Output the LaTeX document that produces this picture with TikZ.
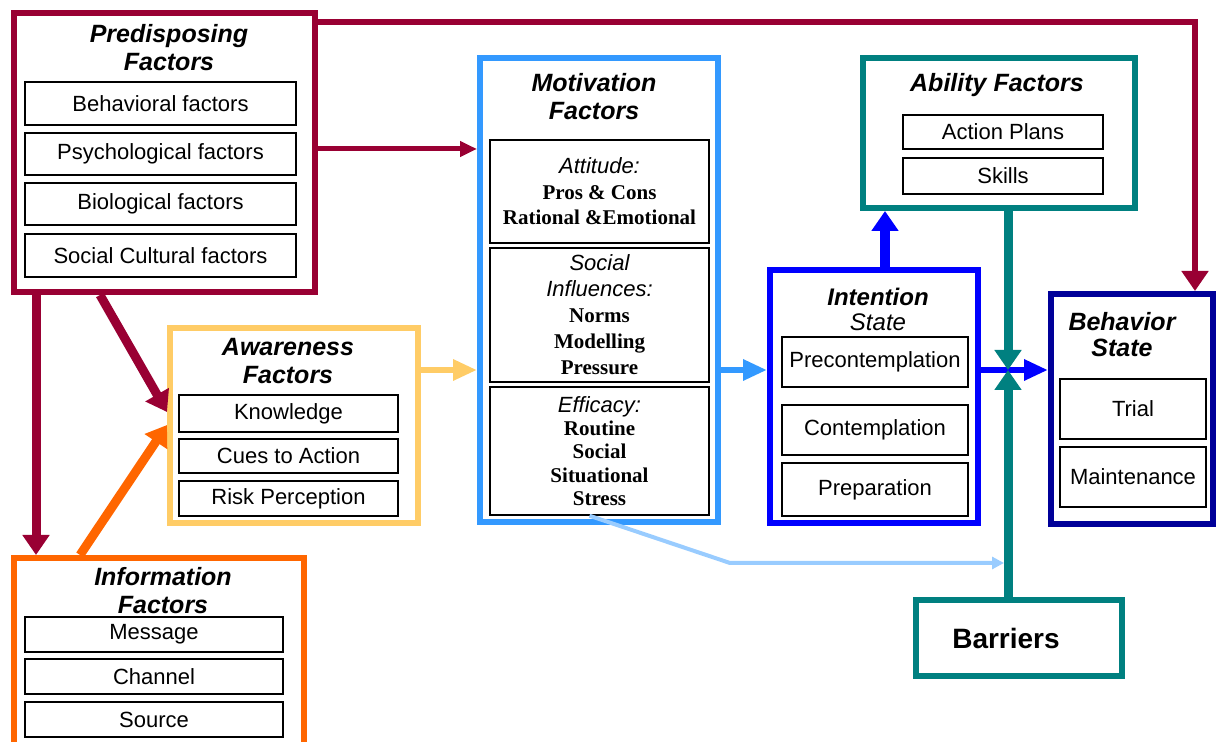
\documentclass[tikz,border=0pt]{standalone}
\usepackage{fontspec}
\setmainfont{Liberation Sans}
\newfontfamily\timesfont{Liberation Serif}
\usetikzlibrary{arrows.meta}

\definecolor{predmaroon}{HTML}{990033}
\definecolor{infoorange}{HTML}{FF6600}
\definecolor{awareyellow}{HTML}{FFCC66}
\definecolor{motivblue}{HTML}{3399FF}
\definecolor{intentblue}{HTML}{0000FF}
\definecolor{behavnavy}{HTML}{000099}
\definecolor{abilityteal}{HTML}{008080}
\definecolor{paleblue}{HTML}{99CCFF}

\begin{document}
\begin{tikzpicture}[x=0.5pt,y=-0.5pt,
    outbox/.style={draw,line width=3pt},
    entry/.style={draw,line width=0.75pt,font=\fontsize{11}{13}\selectfont},
    heading/.style={align=center,font=\bfseries\itshape\fontsize{12.5}{14}\selectfont},
    motitem/.style={entry,minimum width=109.5pt,align=center,font=\timesfont\bfseries\fontsize{10.5}{12.8}\selectfont},
    link/.style={line width=3pt,-{Triangle[width=10pt,length=12pt]}},
    fat/.style={line width=4.5pt,-{Triangle[width=13pt,length=10pt]}}]
  \useasboundingbox (0,0) rectangle (1216,742);
  \clip (0,0) rectangle (1216,742);

  % outer frames
  \node[outbox,draw=predmaroon,minimum width=150.5pt,minimum height=139.5pt] (pre) at (164.5,152.5) {};
  \node[outbox,draw=infoorange,minimum width=145pt,minimum height=96pt] (info) at (159,654) {};
  \node[outbox,draw=awareyellow,minimum width=124pt,minimum height=97.5pt] (aware) at (294,425.5) {};
  \node[outbox,draw=motivblue,minimum width=119pt,minimum height=232pt] (motiv) at (599,290) {};
  \node[outbox,draw=intentblue,minimum width=104pt,minimum height=126.5pt] (intent) at (874,396.5) {};
  \node[outbox,draw=abilityteal,minimum width=136pt,minimum height=75pt] (ability) at (999,133) {};
  \node[outbox,draw=behavnavy,minimum width=81pt,minimum height=115pt] (behav) at (1132,409) {};
  \node[outbox,draw=abilityteal,minimum width=103pt,minimum height=38pt,
        font=\bfseries\fontsize{14}{16}\selectfont] (barriers) at (1019,638) {\hspace*{-13pt}Barriers};

  % headings
  \node[heading] (pretitle) at (169,47.5) {Predisposing\\Factors};
  \node[heading] (infotitle) at (163,591) {Information\\Factors};
  \node[heading] (awaretitle) at (288,361) {Awareness\\Factors};
  \node[heading] (motivtitle) at (594,96.5) {Motivation\\Factors};
  \node[heading] (abilitytitle) at (997,85) {Ability Factors};
  \node[heading,font=\itshape\fontsize{12}{12.5}\selectfont] (intenttitle) at (878,309.5) {{\bfseries Intention}\\State};
  \node[heading,font=\bfseries\itshape\fontsize{12.5}{13}\selectfont] (behavtitle) at (1122,335) {Behavior\\State};

  % predisposing factors
  \node[entry,minimum width=135.5pt,minimum height=21.5pt] (behavioral) at (160.5,103.5) {Behavioral factors};
  \node[entry,minimum width=135.5pt,minimum height=21pt] (psych) at (160.5,154) {Psychological factors};
  \node[entry,minimum width=135.5pt,minimum height=21pt] (bio) at (160.5,204) {Biological factors};
  \node[entry,minimum width=135.5pt,minimum height=21.5pt] (socult) at (160.5,255.5) {Social Cultural factors};

  % information factors
  \node[entry,minimum width=129pt,minimum height=17.5pt] (message) at (154,634.5) {Message};
  \node[entry,minimum width=129pt,minimum height=17.5pt] (channel) at (154,676.5) {Channel};
  \node[entry,minimum width=129pt,minimum height=17.5pt] (source) at (154,719.5) {Source};

  % awareness factors
  \node[entry,minimum width=109.5pt,minimum height=18.5pt] (knowledge) at (288.5,413.5) {Knowledge};
  \node[entry,minimum width=109.5pt,minimum height=17pt] (cues) at (288.5,456) {Cues to Action};
  \node[entry,minimum width=109.5pt,minimum height=17.5pt] (risk) at (288.5,498.5) {Risk Perception};

  % motivation factors
  \node[motitem,minimum height=51.5pt] (attitude) at (599.5,191.5)
    {{\normalfont\itshape\fontsize{11}{12}\selectfont Attitude:}\\Pros \& Cons\\Rational \&Emotional};
  \node[motitem,minimum height=65pt,font=\timesfont\bfseries\fontsize{10.5}{13}\selectfont] (socinf) at (599.5,315)
    {{\normalfont\itshape\fontsize{11}{12}\selectfont Social}\\{\normalfont\itshape\fontsize{11}{12}\selectfont Influences:}\\Norms\\Modelling\\Pressure};
  \node[motitem,minimum height=64pt,font=\timesfont\bfseries\fontsize{10.5}{11.6}\selectfont] (effic) at (599.5,451)
    {{\normalfont\itshape\fontsize{11}{12}\selectfont Efficacy:}\\Routine\\Social\\Situational\\Stress};

  % intention state
  \node[entry,minimum width=93pt,minimum height=25pt] (precont) at (875,362) {Precontemplation};
  \node[entry,minimum width=93pt,minimum height=25pt] (contemp) at (875,430) {Contemplation};
  \node[entry,minimum width=93pt,minimum height=26.5pt] (prep) at (875,489.5) {Preparation};

  % ability factors
  \node[entry,minimum width=100pt,minimum height=17pt] (plans) at (1003,132) {Action Plans};
  \node[entry,minimum width=100pt,minimum height=18pt] (skills) at (1003,176) {Skills};

  % behavior state
  \node[entry,minimum width=73pt,minimum height=30pt] (trial) at (1133,409) {Trial};
  \node[entry,minimum width=73pt,minimum height=30pt] (maint) at (1133,477) {Maintenance};

  % connectors
  \draw[predmaroon,line width=3pt,-{Triangle[width=13pt,length=10pt]}] (pre.east |- 0,22) -| (behav.north -| 1195,0);
  \draw[predmaroon,line width=2.5pt,-{Triangle[width=7.5pt,length=8.5pt]}] (pre.east |- 0,149) -- (motiv.west |- 0,149);
  \draw[fat,predmaroon] (pre.south -| 36,0) -- (info.north -| 36,0);
  \draw[fat,predmaroon] (pre.south -| 100,0) -- (aware.west |- 0,412);
  \draw[fat,infoorange] (info.north -| 80,0) -- (aware.west |- 0,425);
  \draw[link,awareyellow] (aware.east |- 0,370) -- (motiv.west |- 0,370);
  \draw[link,motivblue] (motiv.east |- 0,370) -- (intent.west |- 0,370);
  \draw[link,intentblue] (intent.east |- 0,370) -- (behav.west |- 0,370);
  \draw[fat,intentblue,line width=5pt] (intent.north -| 885,0) -- (ability.south -| 885,0);
  \coordinate (junc) at (1008,370);
  \draw[fat,abilityteal] (ability.south -| 1008,0) -- (junc);
  \draw[fat,abilityteal] (barriers.north -| 1008,0) -- (junc);
  \coordinate (barhit) at (1004,563);
  \draw[paleblue,line width=2pt,-{Triangle[width=6pt,length=6pt]}] ([xshift=-5pt]effic.south) -- (730,563) -- (barhit);
\end{tikzpicture}
\end{document}
